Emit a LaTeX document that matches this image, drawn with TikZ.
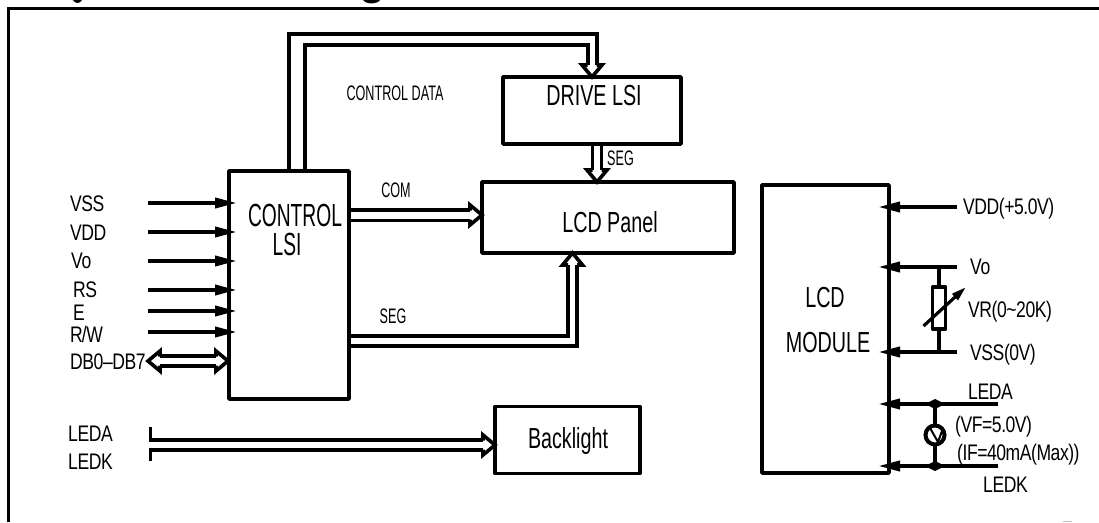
\documentclass[tikz,border=0pt]{standalone}
\usepackage{fontspec}
\usepackage{tikz}
\usetikzlibrary{arrows.meta}
\newfontfamily\pinfont[FakeStretch=0.78,LetterSpace=-2]{Liberation Sans}
\newfontfamily\busfont[FakeStretch=0.6]{Liberation Sans}
\newfontfamily\boxfont[FakeStretch=0.68]{Liberation Sans}

\begin{document}
\begin{tikzpicture}[x=1pt,y=-1pt,
    wire/.style={line width=3.6},
    sigin/.style={line width=3.8,-{Triangle[length=22,width=10]}},
    block/.style={draw,line width=3.7,inner sep=0,outer sep=0,line join=round},
    pinlabel/.style={anchor=west,inner sep=0,font=\pinfont\fontsize{22.5}{22.5}\selectfont},
    buslabel/.style={inner sep=0,font=\busfont\fontsize{21}{21}\selectfont},
    boxlabel/.style={inner sep=0,font=\boxfont\fontsize{29}{29}\selectfont},
    bushead/.pic={\draw[wire,miter limit=10] (-12,-4.5) -- (-12,-10) -- (0,0) -- (-12,10) -- (-12,4.5);}]
    \useasboundingbox (0,0) rectangle (1099,522);
    \fill (73,0) .. controls (75,4) and (80,4) .. (82,0) -- cycle;
    \fill (363,0) .. controls (366,4.5) and (377,4.5) .. (380,0) -- cycle;
    \draw[line width=3.4] (1099,8.6) -| (8.3,522);
    \draw[gray!50] (1063,521.5) -- (1072,521.5);

    \node[block,minimum width=120,minimum height=228] (ctrl) at (289,285) {};
    \node[block,minimum width=178,minimum height=67] (drive) at (592,110.5) {};
    \node[block,minimum width=252,minimum height=71] (panel) at (608,217.5) {};
    \node[block,minimum width=127,minimum height=288] (module) at (825.5,329) {};
    \node[block,minimum width=145,minimum height=67] (backlight) at (567.5,440) {};

    \node[inner sep=0,font=\busfont\fontsize{32}{32}\selectfont] (ctrltext) at (295,215) {CONTROL};
    \node[inner sep=0,font=\busfont\fontsize{32}{32}\selectfont] (lsitext) at (287,244) {LSI};
    \node[boxlabel] (drivetext) at (594,96) {DRIVE LSI};
    \node[boxlabel] (paneltext) at (610,222) {LCD Panel};
    \node[boxlabel] (lcdtext) at (825,298) {LCD};
    \node[boxlabel] (modtext) at (828,343) {MODULE};
    \node[boxlabel] (bltext) at (568,441) {Backlight};
    \node[buslabel] (datatext) at (395,93) {CONTROL DATA};
    \node[buslabel] (comtext) at (396,190) {COM};
    \node[buslabel] (segatext) at (393,316) {SEG};
    \node[buslabel,anchor=west] (segbtext) at (607,158) {SEG};

    % control data bus
    \draw[wire] (ctrl.north) -- ++(0,-137) -| ([xshift=5,yshift=12]drive.north);
    \draw[wire] ([xshift=16]ctrl.north) -- ++(0,-126) -| ([xshift=-4,yshift=12]drive.north);
    \pic[rotate=-90] at (drive.north) {bushead};

    \coordinate (segtop) at (597,144);
    \coordinate (segtip) at (597,182);
    \draw[wire] ([xshift=-4.5]segtop) -- ([xshift=-4.5,yshift=12]segtip);
    \draw[wire] ([xshift=4.5]segtop) -- ([xshift=4.5,yshift=12]segtip);
    \pic[rotate=-90] at (segtip) {bushead};

    \coordinate (comtip) at (482,215);
    \draw[wire] (ctrl.east |- 0,209.7) -- ([xshift=-12,yshift=5.3]comtip);
    \draw[wire] (ctrl.east |- 0,220.3) -- ([xshift=-12,yshift=-5.3]comtip);
    \pic at (comtip) {bushead};

    \coordinate (panelin) at (572.5,253);
    \draw[wire] (ctrl.east |- 0,336) -| ([xshift=-4.5,yshift=-12]panelin);
    \draw[wire] (ctrl.east |- 0,346) -| ([xshift=4.5,yshift=-12]panelin);
    \pic[rotate=90] at (panelin) {bushead};

    % pins of the control chip
    \coordinate (ctrlin) at ([xshift=8]ctrl.west);
    \foreach \n/\t/\lx/\ly/\wy in {vss/VSS/70/204/203,vdd/VDD/70/233/232,vo/Vo/71/261/261,rs/RS/73/290/290,e/E/73/313/311,rw/{R\kern-1pt/W}/70/334/332} {
        \node[pinlabel] (\n text) at (\lx,\ly) {\t};
        \coordinate (\n pin) at (148,\wy);
        \draw[sigin] (\n pin) -- (ctrlin |- \n pin);
    }
    \node[pinlabel] (dbtext) at (70,362) {DB0–DB7};
    \coordinate (dbl) at (148,361);
    \coordinate (dbr) at (228,361);
    \draw[wire] ([xshift=12,yshift=5.2]dbl) -- ([xshift=-12,yshift=5.2]dbr);
    \draw[wire] ([xshift=12,yshift=-5.2]dbl) -- ([xshift=-12,yshift=-5.2]dbr);
    \pic at (dbr) {bushead};
    \pic[rotate=180] at (dbl) {bushead};

    \node[pinlabel] (ledatext) at (68,434) {LEDA};
    \node[pinlabel] (ledktext) at (68,462) {LEDK};
    \coordinate (ledastart) at (150.5,427);
    \coordinate (ledkstart) at (150.5,461);
    \coordinate (bltip) at (495,445);
    \draw[wire] (ledastart) |- ([xshift=-12,yshift=5.2]bltip);
    \draw[wire] (ledkstart) |- ([xshift=-12,yshift=-5.2]bltip);
    \pic at (bltip) {bushead};

    % module side
    \coordinate (modin) at ([xshift=-11]module.east);
    \foreach \n/\wy/\wx in {vddr/207/957,vor/267/957,vssr/352/957,ledar/404/998,ledkr/466/998} {
        \coordinate (\n) at (\wx,\wy);
        \draw[sigin] (\n) -- (modin |- \n);
    }
    \node[pinlabel] (vddrtext) at (963,209) {VDD(+5.0V)};
    \node[pinlabel] (vortext) at (970,267) {Vo};
    \node[pinlabel] (vrtext) at (968,312) {VR(0\char`\~20K)};
    \node[pinlabel] (vssrtext) at (970,355) {VSS(0V)};
    \node[pinlabel] (ledartext) at (968,392) {LEDA};
    \node[pinlabel] (vftext) at (955,427) {(VF=5.0V)};
    \node[pinlabel] (iftext) at (957,455) {(IF=40mA(Max))};
    \node[pinlabel] (ledkrtext) at (983,485) {LEDK};

    \coordinate (vrtop) at (939,267);
    \coordinate (vrbot) at (939,352);
    \node[block,fill=white,line width=3.4,minimum width=13,minimum height=42] (vr) at (939,308) {};
    \draw[wire] (vrtop) -- (vr);
    \draw[wire] (vr) -- (vrbot);
    \coordinate (vrfrom) at (923.5,326);
    \coordinate (vrto) at (966,287);
    \draw[line width=3.2,-{Triangle[length=15,width=8]}] (vrfrom) -- (vrto);

    \coordinate (ledtop) at (935,404);
    \coordinate (ledbot) at (935,466);
    \fill (ledtop) +(-10,0) -- +(0,-5) -- +(10,0) -- +(0,5) -- cycle;
    \fill (ledbot) +(-10,0) -- +(0,-5) -- +(10,0) -- +(0,5) -- cycle;
    \node[circle,draw,line width=4,inner sep=0,outer sep=0,minimum size=19] (led) at (935,435) {};
    \draw[wire] (ledtop) -- (led);
    \draw[wire] (led) -- (ledbot);
    \draw[line width=2] (930,428) -- (938,442) -- (942,431);
\end{tikzpicture}
\end{document}
